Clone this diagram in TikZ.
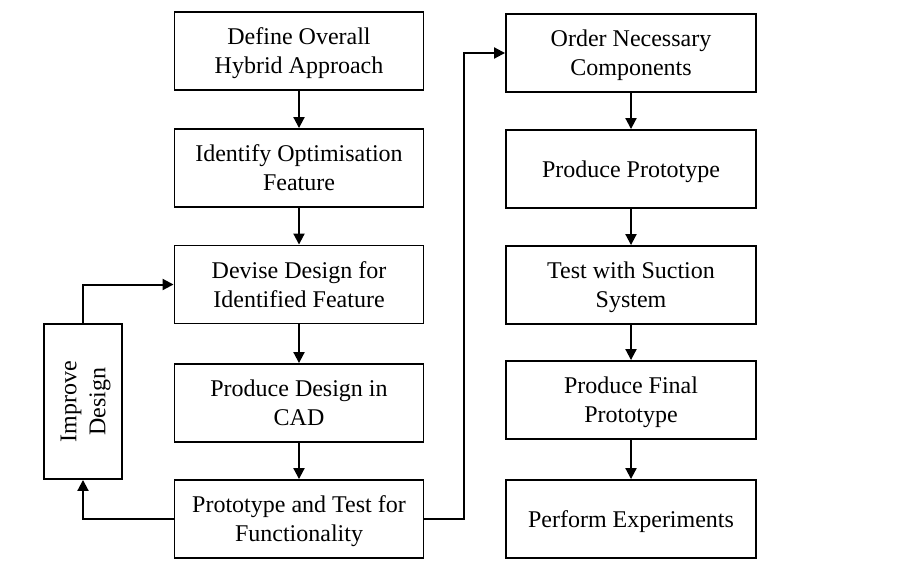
\documentclass[tikz,border=0pt]{standalone}
\usepackage{fontspec}
\setmainfont{Liberation Serif}
\usetikzlibrary{arrows.meta}
\begin{document}
\begin{tikzpicture}[x=1pt,y=-1pt,
  box/.style={draw,line width=1.9pt,minimum width=249pt,minimum height=78pt,align=center,
    font=\fontsize{24}{29}\selectfont,inner sep=0pt,text depth=0pt},
  arr/.style={line width=2pt,-{Triangle[length=11pt,width=11pt]}}]
\useasboundingbox (0,0) rectangle (917,570);
\node[box] (l1) at (299,51) {Define Overall\\Hybrid Approach};
\node[box] (l2) at (299,168) {Identify Optimisation\\Feature};
\node[box] (l3) at (299,284.5) {Devise Design for\\Identified Feature};
\node[box] (l4) at (299,403) {Produce Design in\\CAD};
\node[box] (l5) at (299,519) {Prototype and Test for\\Functionality};
\node[box,minimum width=250pt] (r1) at (631,53) {Order Necessary\\Components};
\node[box,minimum width=250pt] (r2) at (631,169) {Produce Prototype};
\node[box,minimum width=250pt] (r3) at (631,285) {Test with Suction\\System};
\node[box,minimum width=250pt] (r4) at (631,400) {Produce Final\\Prototype};
\node[box,minimum width=250pt] (r5) at (631,519) {Perform Experiments};
\node[box,minimum width=155pt,minimum height=78pt,rotate=90] (imp) at (83,401.5) {Improve\\Design};
\draw[arr] (l1) -- (l2);
\draw[arr] (l2) -- (l3);
\draw[arr] (l3) -- (l4);
\draw[arr] (l4) -- (l5);
\draw[arr] (r1) -- (r2);
\draw[arr] (r2) -- (r3);
\draw[arr] (r3) -- (r4);
\draw[arr] (r4) -- (r5);
\draw[arr] (l5.west) -| (imp.west);
\draw[arr] (imp.east) |- (l3.west);
\coordinate (mid) at (464,0);
\draw[arr] (l5.east) -| (mid |- r1.west) -- (r1.west);
\end{tikzpicture}
\end{document}
